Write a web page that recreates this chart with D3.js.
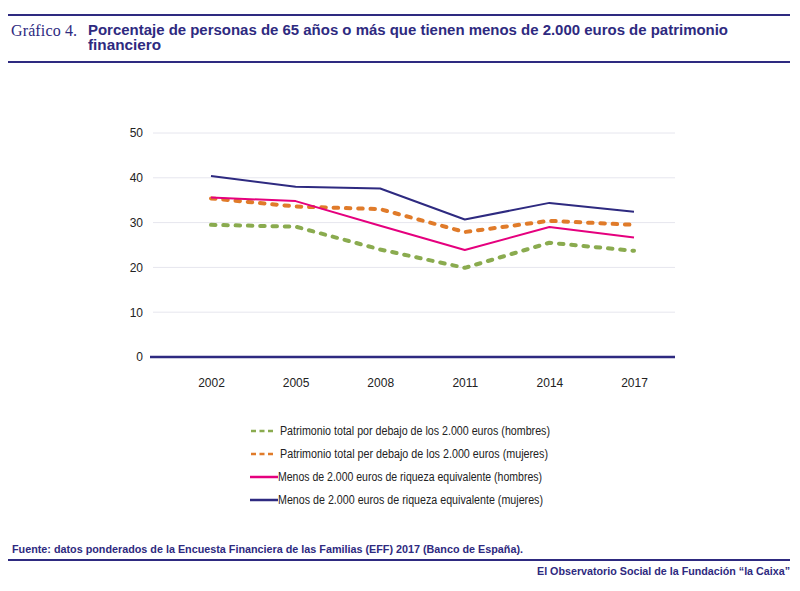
<!DOCTYPE html>
<html><head><meta charset="utf-8">
<script src="https://cdn.jsdelivr.net/npm/d3@7"></script>
<style>body{margin:0;background:#fff}svg{display:block}</style>
</head><body><svg id="c" width="800" height="591"></svg>
<script>
const years = ["2002","2005","2008","2011","2014","2017"];
const greenVals  = [29.5, 29.1, 24.0, 19.9, 25.5, 23.7];
const orangeVals = [35.4, 33.6, 33.0, 27.9, 30.4, 29.5];
const pinkVals   = [35.6, 34.8, 29.3, 23.9, 29.0, 26.7];
const navyVals   = [40.4, 38.0, 37.6, 30.7, 34.4, 32.4];
const seriesNames = [
  "Patrimonio total por debajo de los 2.000 euros (hombres)",
  "Patrimonio total per debajo de los 2.000 euros (mujeres)",
  "Menos de 2.000 euros de riqueza equivalente (hombres)",
  "Menos de 2.000 euros de riqueza equivalente (mujeres)"
];
const yTicks = [0,10,20,30,40,50];

const NAVY = "#2e2a80";
const series = [
  {name: seriesNames[0], vals: greenVals, color: "#8aab4f", dashed: true},
  {name: seriesNames[1], vals: orangeVals, color: "#e07b2a", dashed: true},
  {name: seriesNames[2], vals: pinkVals, color: "#e5007e", dashed: false},
  {name: seriesNames[3], vals: navyVals, color: "#2e2a80", dashed: false}
];

const svg = d3.select("#c");
const font = "'Liberation Sans', Arial, sans-serif";

// header rules
svg.append("line").attr("x1",8).attr("x2",790).attr("y1",15).attr("y2",15).attr("stroke",NAVY).attr("stroke-width",2);
svg.append("line").attr("x1",8).attr("x2",790).attr("y1",62).attr("y2",62).attr("stroke",NAVY).attr("stroke-width",2);
svg.append("text").attr("x",11).attr("y",36).attr("font-family","'Liberation Serif', 'DejaVu Serif', serif")
  .attr("font-size",16).attr("fill",NAVY).attr("textLength",66).attr("lengthAdjust","spacing").text("Gráfico 4.");
const title = svg.append("text").attr("font-family",font).attr("font-weight","bold")
  .attr("font-size",14.5).attr("fill",NAVY);
title.append("tspan").attr("x",88).attr("y",35).attr("textLength",640).attr("lengthAdjust","spacingAndGlyphs")
  .text("Porcentaje de personas de 65 años o más que tienen menos de 2.000 euros de patrimonio");
title.append("tspan").attr("x",88).attr("y",50).attr("textLength",73).attr("lengthAdjust","spacingAndGlyphs")
  .text("financiero");

// scales
const x = d3.scalePoint().domain(years).range([211, 634]);
const y = d3.scaleLinear().domain([0,50]).range([357, 133]);

// gridlines
svg.append("g").selectAll("line").data(yTicks.filter(d=>d>0)).join("line")
  .attr("x1",153).attr("x2",675).attr("y1",d=>y(d)).attr("y2",d=>y(d))
  .attr("stroke","#e6e6ee").attr("stroke-width",1);

// y axis labels
const yAxis = d3.axisLeft(y).tickValues(yTicks).tickSize(0).tickPadding(0).tickFormat(d3.format("d"));
const gy = svg.append("g").attr("transform","translate(143,0)").call(yAxis);
gy.select(".domain").remove();
gy.selectAll("text").attr("font-family",font).attr("font-size",12).attr("fill","#222");

// x axis labels
const xAxis = d3.axisBottom(x).tickSize(0).tickPadding(0);
const gx = svg.append("g").attr("transform","translate(0,378)").call(xAxis);
gx.select(".domain").remove();
gx.selectAll("text").attr("font-family",font).attr("font-size",12).attr("fill","#222").attr("dy","0.71em");

// baseline
svg.append("line").attr("x1",150).attr("x2",675).attr("y1",y(0)).attr("y2",y(0)).attr("stroke",NAVY).attr("stroke-width",2.5);

// lines
const line = d3.line().x((d,i)=>x(years[i])).y(d=>y(d));
series.forEach(s=>{
  svg.append("path").attr("d",line(s.vals)).attr("fill","none").attr("stroke",s.color)
    .attr("stroke-width",s.dashed?4:2).attr("stroke-linecap",s.dashed?"round":"butt")
    .attr("stroke-linejoin","round")
    .attr("stroke-dasharray",s.dashed?"4.5,7.8":null);
});

// legend
const lg = svg.append("g");
const rowY = [431,454,477,500];
const textW = [270,268,264,265];
series.forEach((s,i)=>{
  lg.append("line").attr("x1",s.dashed?251:250).attr("x2",s.dashed?275:278).attr("y1",rowY[i]).attr("y2",rowY[i])
    .attr("stroke",s.color).attr("stroke-width",2.5)
    .attr("stroke-dasharray",s.dashed?"5,3.5":null);
  lg.append("text").attr("x",s.dashed?280:278).attr("y",rowY[i]).attr("dy","0.35em")
    .attr("font-family",font).attr("font-size",12).attr("fill","#222")
    .attr("textLength",textW[i]).attr("lengthAdjust","spacingAndGlyphs").text(s.name);
});

// footer
svg.append("text").attr("x",12).attr("y",553).attr("font-family",font).attr("font-weight","bold")
  .attr("font-size",11).attr("fill",NAVY).attr("textLength",511).attr("lengthAdjust","spacingAndGlyphs")
  .text("Fuente:  datos ponderados de la Encuesta Financiera de las Familias (EFF) 2017 (Banco de España).");
svg.append("line").attr("x1",8).attr("x2",790).attr("y1",560).attr("y2",560).attr("stroke",NAVY).attr("stroke-width",2);
svg.append("text").attr("x",790).attr("y",575).attr("text-anchor","end").attr("font-family",font).attr("font-weight","bold")
  .attr("font-size",11).attr("fill",NAVY).attr("textLength",253).attr("lengthAdjust","spacingAndGlyphs")
  .text("El Observatorio Social de la Fundación “la Caixa”");
</script></body></html>
